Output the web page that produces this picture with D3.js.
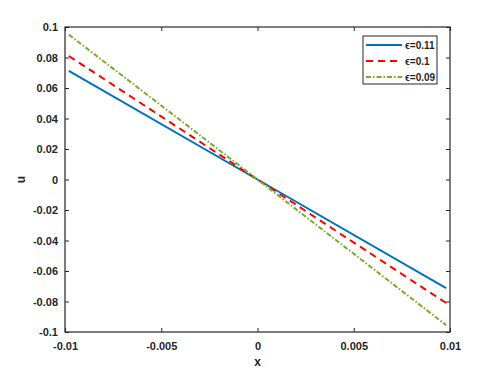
<!DOCTYPE html>
<html>
<head>
<meta charset="utf-8">
<script src="https://cdn.jsdelivr.net/npm/d3@7"></script>
<style>
  body { margin: 0; background: #fff; }
  text { font-family: "Liberation Sans", Arial, sans-serif; font-weight: bold; fill: #262626; }
</style>
</head>
<body>
<div id="chart"></div>
<script>
const xVals = [-0.0098, 0, 0.0098];
const seriesNames = ["ϵ=0.11", "ϵ=0.1", "ϵ=0.09"];
const uBlue = [0.0712, 0, -0.0712];
const uRed = [0.081, 0, -0.081];
const uGreen = [0.095, 0, -0.0955];
const xTicks = [-0.01, -0.005, 0, 0.005, 0.01];
const yTicks = [-0.1, -0.08, -0.06, -0.04, -0.02, 0, 0.02, 0.04, 0.06, 0.08, 0.1];

const width = 498, height = 374;
const margin = { top: 27, right: 48, bottom: 42, left: 65 };
const w = width - margin.left - margin.right;
const h = height - margin.top - margin.bottom;

const svg = d3.select("#chart").append("svg")
  .attr("width", width).attr("height", height);
const g = svg.append("g").attr("transform", `translate(${margin.left},${margin.top})`);

const x = d3.scaleLinear().domain([-0.01, 0.01]).range([0, w]);
const y = d3.scaleLinear().domain([-0.1, 0.1]).range([h, 0]);

const fmt = d => d === 0 ? "0" : String(+d.toFixed(3));

// Axes with inward ticks
const axisStyle = sel => {
  sel.select(".domain").remove();
  sel.selectAll("line").attr("stroke", "#262626");
  sel.selectAll("text").style("font-size", "11px");
};
g.append("g").attr("transform", `translate(0,${h})`)
  .call(d3.axisBottom(x).tickValues(xTicks).tickFormat(fmt).tickSizeInner(-4).tickSizeOuter(0).tickPadding(10))
  .call(axisStyle);
g.append("g")
  .call(d3.axisTop(x).tickValues(xTicks).tickFormat("").tickSizeInner(-4).tickSizeOuter(0))
  .call(axisStyle);
g.append("g")
  .call(d3.axisLeft(y).tickValues(yTicks).tickFormat(fmt).tickSizeInner(-4).tickSizeOuter(0).tickPadding(7))
  .call(axisStyle);
g.append("g").attr("transform", `translate(${w},0)`)
  .call(d3.axisRight(y).tickValues(yTicks).tickFormat("").tickSizeInner(-4).tickSizeOuter(0))
  .call(axisStyle);

g.append("rect").attr("width", w).attr("height", h)
  .attr("fill", "none").attr("stroke", "#262626").attr("stroke-width", 1.2);

// Lines
const series = [
  { name: seriesNames[0], u: uBlue, color: "#0072BD", dash: null },
  { name: seriesNames[1], u: uRed, color: "#FF0000", dash: "7,5" },
  { name: seriesNames[2], u: uGreen, color: "#77AC30", dash: "5,2,1.5,2" }
];
const line = d3.line().x(d => x(d[0])).y(d => y(d[1]));
series.forEach(s => {
  g.append("path")
    .datum(xVals.map((xv, i) => [xv, s.u[i]]))
    .attr("d", line)
    .attr("fill", "none")
    .attr("stroke", s.color)
    .attr("stroke-width", 2)
    .attr("stroke-dasharray", s.dash);
});

// Legend
const lg = svg.append("g").attr("transform", "translate(363,36)");
lg.append("rect").attr("width", 74).attr("height", 48)
  .attr("fill", "#fff").attr("stroke", "#262626").attr("stroke-width", 1);
series.forEach((s, i) => {
  const yy = 9 + i * 16;
  lg.append("line").attr("x1", 3).attr("x2", 39).attr("y1", yy).attr("y2", yy)
    .attr("stroke", s.color).attr("stroke-width", 2).attr("stroke-dasharray", s.dash);
  lg.append("text").attr("x", 42).attr("y", yy + 4)
    .style("font-size", "10px").text(s.name);
});

// Axis labels
svg.append("text").attr("x", margin.left + w / 2).attr("y", 366)
  .attr("text-anchor", "middle").style("font-size", "12px").text("x");
svg.append("text").attr("transform", `translate(25,${margin.top + h / 2}) rotate(-90)`)
  .attr("text-anchor", "middle").style("font-size", "12px").text("u");
</script>
</body>
</html>
